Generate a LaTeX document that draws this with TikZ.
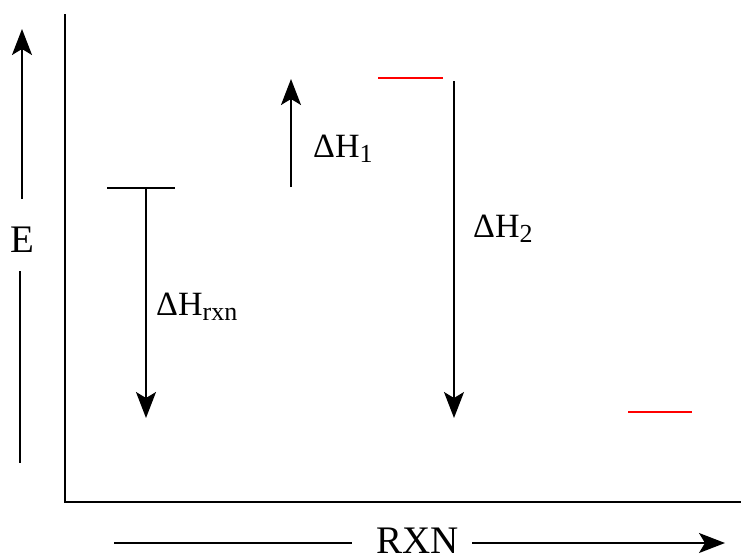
\documentclass[tikz,border=0pt]{standalone}
\usepackage{fontspec}
\setmainfont{Liberation Serif}
\usetikzlibrary{arrows.meta}
\newcommand\lowsub[1]{\raisebox{-5pt}{\fontsize{26}{26}\selectfont #1}}
\begin{document}
\begin{tikzpicture}[x=1pt,y=-1pt,
  axisline/.style={line width=2pt},
  arr/.style={line width=1.6pt,-{Stealth[length=26pt,width=20pt,inset=6pt]}},
  plainline/.style={line width=1.6pt},
  level/.style={line width=1.8pt},
  redlevel/.style={line width=1.8pt,red},
  biglabel/.style={font=\fontsize{39}{39}\selectfont,inner sep=0pt,anchor=base},
  dlabel/.style={font=\fontsize{34}{34}\selectfont,inner sep=0pt,anchor=base west}]
\useasboundingbox (0,0) rectangle (741,557);
% axes
\coordinate (axtop) at (65,14);
\coordinate (origin) at (65,502);
\coordinate (axright) at (741,502);
\draw[axisline] (axtop) -- (origin) -- (axright);
% E axis label
\coordinate (ebot) at (22,199);
\coordinate (etop) at (22,29);
\draw[arr] (ebot) -- (etop);
\node[biglabel] (E) at (22.5,252) {E};
\coordinate (elow1) at (20,271);
\coordinate (elow2) at (20,463);
\draw[plainline] (elow1) -- (elow2);
% RXN axis label
\coordinate (r1) at (114,543);
\coordinate (r2) at (352,543);
\coordinate (r3) at (472,543);
\coordinate (r4) at (725,543);
\draw[plainline] (r1) -- (r2);
\draw[arr] (r3) -- (r4);
\node[biglabel] (RXN) at (417.5,553) {RXN};
% reactant level
\coordinate (l1a) at (107,188);
\coordinate (l1b) at (175,188);
\draw[level] (l1a) -- (l1b);
\coordinate (hr1) at (146,188);
\coordinate (hr2) at (146,418);
\draw[arr] (hr1) -- (hr2);
\node[dlabel] (Hrxn) at (156,315) {ΔH\lowsub{rxn}};
% Delta H1
\coordinate (h1a) at (291,187);
\coordinate (h1b) at (291,79);
\draw[arr] (h1a) -- (h1b);
\node[dlabel] (H1) at (313,157) {ΔH\lowsub{1}};
% red levels
\coordinate (t1) at (378,78);
\coordinate (t2) at (443,78);
\draw[redlevel] (t1) -- (t2);
\coordinate (b1) at (628,412);
\coordinate (b2) at (692,412);
\draw[redlevel] (b1) -- (b2);
% Delta H2
\coordinate (h2a) at (454,81);
\coordinate (h2b) at (454,418);
\draw[arr] (h2a) -- (h2b);
\node[dlabel] (H2) at (473,237) {ΔH\lowsub{2}};
\end{tikzpicture}
\end{document}
